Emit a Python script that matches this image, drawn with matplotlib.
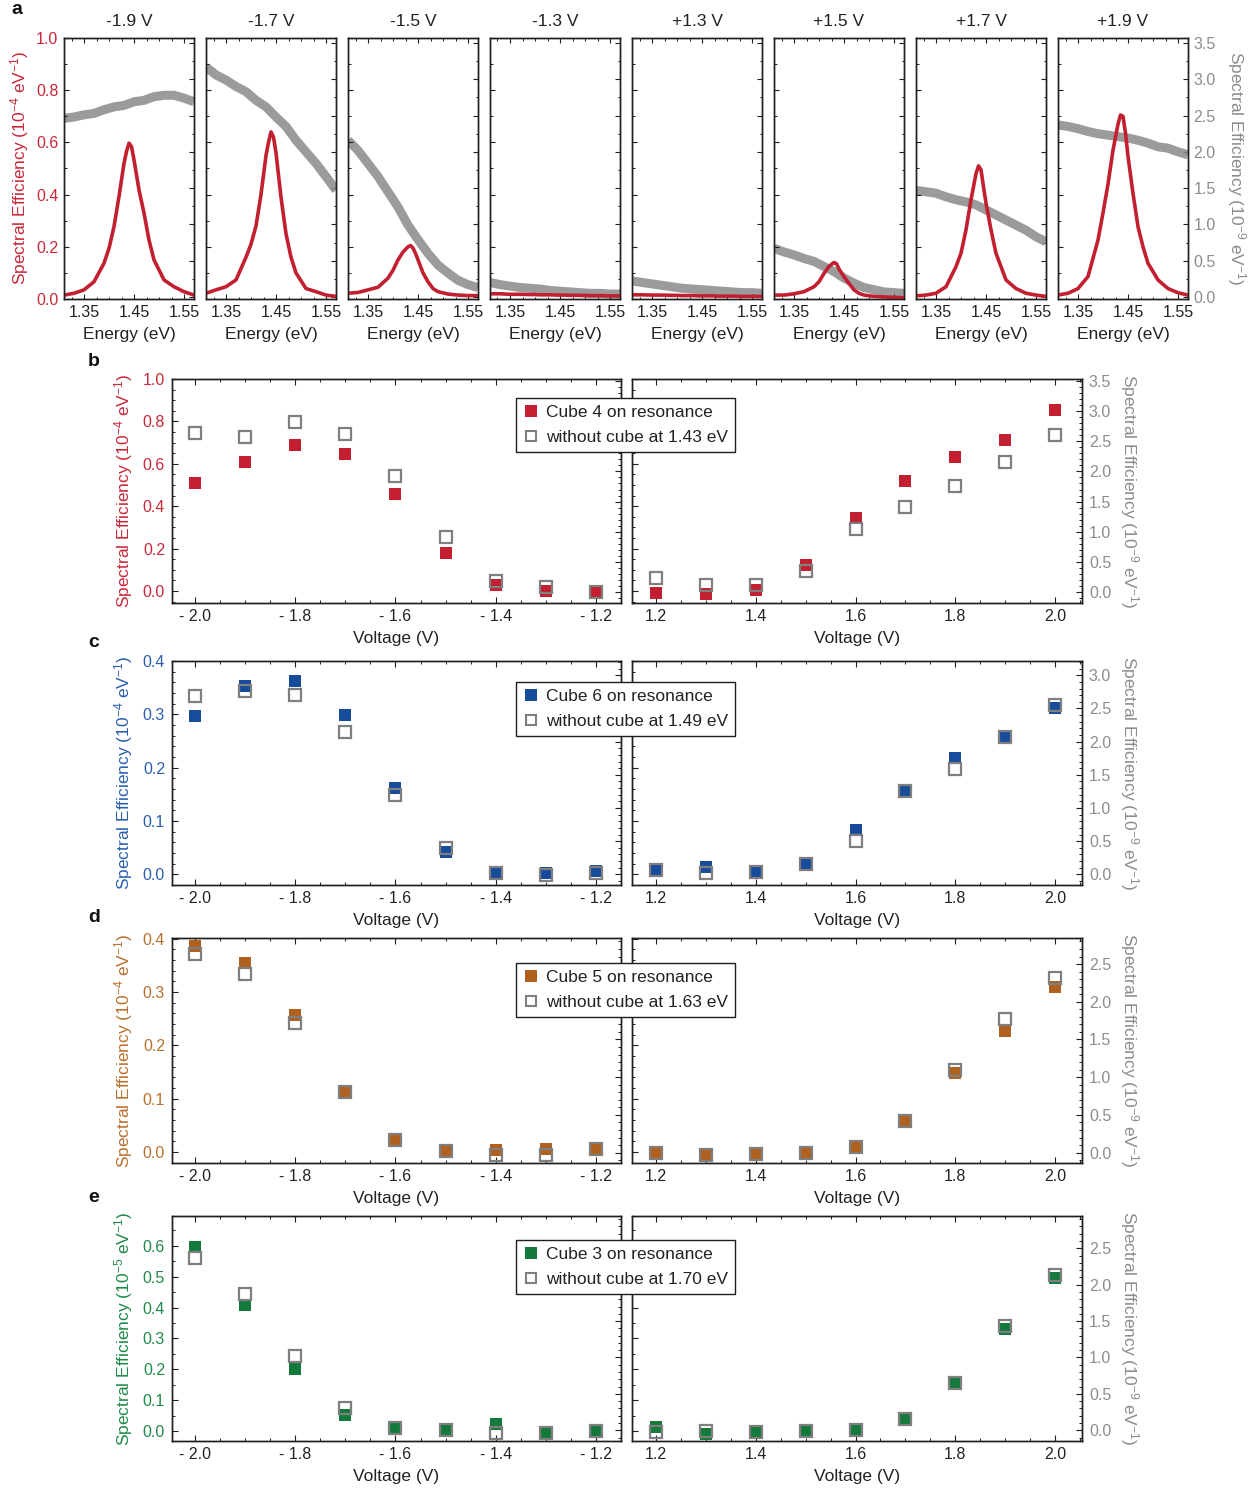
import matplotlib
matplotlib.use('Agg')
import matplotlib.pyplot as plt
from matplotlib.ticker import MultipleLocator, FixedLocator, FormatStrFormatter
from matplotlib.lines import Line2D

plt.rcParams['font.family'] = ['Liberation Sans', 'DejaVu Sans']
plt.rcParams['mathtext.fontset'] = 'custom'
plt.rcParams['mathtext.rm'] = 'Liberation Sans'
plt.rcParams['mathtext.it'] = 'Liberation Sans:italic'
plt.rcParams['mathtext.bf'] = 'Liberation Sans:bold'

# ---------------- data: panel a (spectra) ----------------
spec_titles = ['-1.9 V', '-1.7 V', '-1.5 V', '-1.3 V', '+1.3 V', '+1.5 V', '+1.7 V', '+1.9 V']
energy_peak = [1.31, 1.33, 1.35, 1.37, 1.39, 1.40, 1.41, 1.42, 1.43, 1.435, 1.44,
               1.445, 1.45, 1.46, 1.47, 1.48, 1.49, 1.51, 1.53, 1.55, 1.57]
energy_bg = [1.31, 1.33, 1.35, 1.37, 1.39, 1.41, 1.43, 1.45, 1.47, 1.49, 1.51, 1.53, 1.55, 1.57]

# red: cube on resonance (1e-4 /eV), left axis
red_m19 = [0.015, 0.022, 0.035, 0.066, 0.137, 0.194, 0.277, 0.393, 0.52, 0.565, 0.597,
           0.584, 0.533, 0.418, 0.329, 0.226, 0.15, 0.073, 0.047, 0.028, 0.015]
red_m17 = [0.022, 0.035, 0.047, 0.073, 0.16, 0.21, 0.28, 0.40, 0.55, 0.60, 0.64,
           0.62, 0.56, 0.39, 0.25, 0.16, 0.10, 0.04, 0.028, 0.015, 0.01]
red_m15 = [0.022, 0.025, 0.035, 0.045, 0.08, 0.11, 0.15, 0.18, 0.2, 0.205, 0.195,
           0.175, 0.15, 0.1, 0.066, 0.04, 0.028, 0.019, 0.015, 0.013, 0.013]
red_m13 = [0.02, 0.02, 0.018, 0.018, 0.017, 0.017, 0.016, 0.016, 0.016, 0.016, 0.015,
           0.015, 0.015, 0.015, 0.014, 0.014, 0.014, 0.013, 0.013, 0.012, 0.012]
red_p13 = [0.016, 0.016, 0.015, 0.015, 0.014, 0.014, 0.013, 0.013, 0.013, 0.013, 0.012,
           0.012, 0.012, 0.012, 0.012, 0.011, 0.011, 0.011, 0.01, 0.01, 0.01]
red_p15 = [0.015, 0.015, 0.02, 0.028, 0.047, 0.066, 0.098, 0.125, 0.14, 0.135, 0.115,
           0.1, 0.085, 0.06, 0.035, 0.022, 0.015, 0.01, 0.008, 0.006, 0.005]
red_p17 = [0.012, 0.015, 0.022, 0.047, 0.124, 0.175, 0.265, 0.38, 0.48, 0.51, 0.495,
           0.43, 0.367, 0.265, 0.175, 0.124, 0.073, 0.04, 0.022, 0.015, 0.01]
red_p19 = [0.015, 0.022, 0.04, 0.086, 0.226, 0.33, 0.44, 0.57, 0.67, 0.705, 0.70,
           0.636, 0.546, 0.405, 0.277, 0.2, 0.137, 0.073, 0.04, 0.024, 0.015]

# gray: without cube (1e-9 /eV), right axis
gray_m19 = [2.46, 2.48, 2.51, 2.53, 2.58, 2.62, 2.64, 2.69, 2.71, 2.76, 2.78, 2.78, 2.74, 2.69]
gray_m17 = [3.17, 3.06, 2.99, 2.90, 2.83, 2.71, 2.62, 2.48, 2.35, 2.16, 2.0, 1.84, 1.66, 1.47]
gray_m15 = [2.16, 2.02, 1.84, 1.66, 1.45, 1.24, 0.99, 0.79, 0.60, 0.44, 0.33, 0.23, 0.17, 0.13]
gray_m13 = [0.2, 0.17, 0.15, 0.13, 0.12, 0.11, 0.09, 0.08, 0.07, 0.06, 0.05, 0.05, 0.04, 0.04]
gray_p13 = [0.22, 0.2, 0.18, 0.16, 0.14, 0.12, 0.11, 0.1, 0.09, 0.08, 0.07, 0.06, 0.06, 0.05]
gray_p15 = [0.67, 0.62, 0.58, 0.53, 0.49, 0.42, 0.35, 0.26, 0.19, 0.13, 0.10, 0.07, 0.06, 0.05]
gray_p17 = [1.47, 1.45, 1.43, 1.38, 1.34, 1.31, 1.27, 1.20, 1.13, 1.06, 0.99, 0.92, 0.83, 0.76]
gray_p19 = [2.37, 2.35, 2.32, 2.28, 2.25, 2.23, 2.21, 2.19, 2.16, 2.12, 2.07, 2.05, 2.0, 1.96]

red_spectra = [red_m19, red_m17, red_m15, red_m13, red_p13, red_p15, red_p17, red_p19]
gray_spectra = [gray_m19, gray_m17, gray_m15, gray_m13, gray_p13, gray_p15, gray_p17, gray_p19]

# ---------------- data: panels b-e (voltage sweeps) ----------------
volt_neg = [-2.0, -1.9, -1.8, -1.7, -1.6, -1.5, -1.4, -1.3, -1.2]
volt_pos = [1.2, 1.3, 1.4, 1.5, 1.6, 1.7, 1.8, 1.9, 2.0]
neg_ticks = [-2.0, -1.8, -1.6, -1.4, -1.2]
neg_ticklabels = ['- 2.0', '- 1.8', '- 1.6', '- 1.4', '- 1.2']
pos_ticks = [1.2, 1.4, 1.6, 1.8, 2.0]
pos_ticklabels = ['1.2', '1.4', '1.6', '1.8', '2.0']

b_cube_neg = [0.51, 0.61, 0.687, 0.645, 0.455, 0.18, 0.03, 0.0, -0.005]
b_bg_neg = [2.64, 2.57, 2.81, 2.62, 1.93, 0.92, 0.19, 0.09, 0.01]
b_cube_pos = [-0.01, -0.015, 0.003, 0.12, 0.345, 0.518, 0.632, 0.711, 0.853]
b_bg_pos = [0.23, 0.12, 0.12, 0.36, 1.05, 1.41, 1.76, 2.16, 2.60]

c_cube_neg = [0.296, 0.353, 0.363, 0.298, 0.161, 0.042, 0.005, 0.002, 0.007]
c_bg_neg = [2.69, 2.77, 2.70, 2.14, 1.20, 0.39, 0.015, -0.01, 0.025]
c_cube_pos = [0.006, 0.014, 0.005, 0.019, 0.083, 0.159, 0.218, 0.256, 0.311]
c_bg_pos = [0.065, 0.025, 0.04, 0.15, 0.50, 1.26, 1.585, 2.07, 2.55]

d_cube_neg = [0.386, 0.355, 0.256, 0.110, 0.023, 0.002, 0.003, 0.006, 0.006]
d_bg_neg = [2.63, 2.37, 1.715, 0.807, 0.173, 0.022, -0.035, -0.027, 0.044]
d_cube_pos = [0.0, -0.003, -0.003, -0.002, 0.009, 0.058, 0.149, 0.226, 0.310]
d_bg_pos = [0.0, -0.027, -0.013, -0.004, 0.075, 0.417, 1.095, 1.773, 2.314]

e_cube_neg = [0.595, 0.408, 0.200, 0.051, 0.011, 0.002, 0.024, -0.003, 0.0]
e_bg_neg = [2.36, 1.87, 1.02, 0.307, 0.032, 0.0, -0.037, -0.037, -0.009]
e_cube_pos = [0.013, -0.009, -0.003, -0.003, 0.002, 0.04, 0.157, 0.332, 0.497]
e_bg_pos = [-0.023, -0.014, -0.023, -0.009, 0.009, 0.16, 0.656, 1.436, 2.133]

cube_names = ['Cube 4 on resonance', 'Cube 6 on resonance', 'Cube 5 on resonance', 'Cube 3 on resonance']
bg_names = ['without cube at 1.43 eV', 'without cube at 1.49 eV', 'without cube at 1.63 eV', 'without cube at 1.70 eV']
left_exponents = ['-4', '-4', '-4', '-5']

# ---------------- styles ----------------
RED, RED_T = '#C21F30', '#C8283A'
BLUE, BLUE_T = '#174C9C', '#2A5FAE'
BROWN, BROWN_T = '#B0601F', '#B8702E'
GREEN, GREEN_T = '#147A3C', '#1F8A48'
GRAY_M, GRAY_T = '#7F7F7F', '#8C8C8C'
FRAME = '#1e1e1e'
TXT = '#222222'

W, H = 1253, 1489
fig = plt.figure(figsize=(W / 100, H / 100), dpi=100)


def box(x0, y0, x1, y1):
    return [x0 / W, 1 - y1 / H, (x1 - x0) / W, (y1 - y0) / H]


def ftext(x, y, s, **kw):
    fig.text(x / W, 1 - y / H, s, **kw)


def frame(ax):
    for sp in ax.spines.values():
        sp.set_color(FRAME)
        sp.set_linewidth(1.0)


TICK_FS = 11.5
LAB_FS = 12.5

# ---------------- panel a ----------------
a_lefts = [64, 206, 348, 490, 632, 774, 916, 1058]
for i, x0 in enumerate(a_lefts):
    ax = fig.add_axes(box(x0, 38, x0 + 130, 299))
    ax2 = ax.twinx()
    ax2.plot(energy_bg, gray_spectra[i], color='#8a8a8a', lw=6.5, solid_capstyle='butt',
             solid_joinstyle='round', alpha=0.85)
    ax.plot(energy_peak, red_spectra[i], color=RED, lw=2.6, solid_joinstyle='round')
    ax.set_zorder(ax2.get_zorder() + 1)
    ax.patch.set_visible(False)
    ax.set_xlim(1.31, 1.57)
    ax.set_ylim(0.0, 1.0)
    ax2.set_ylim(-0.028, 3.569)
    ax.xaxis.set_major_locator(FixedLocator([1.35, 1.45, 1.55]))
    ax.xaxis.set_minor_locator(MultipleLocator(0.025))
    ax.yaxis.set_major_locator(MultipleLocator(0.2))
    ax.yaxis.set_minor_locator(MultipleLocator(0.1))
    ax2.yaxis.set_major_locator(MultipleLocator(0.5))
    ax2.yaxis.set_minor_locator(MultipleLocator(0.25))
    ax.yaxis.set_major_formatter(FormatStrFormatter('%.1f'))
    ax2.yaxis.set_major_formatter(FormatStrFormatter('%.1f'))
    ax.tick_params(axis='both', which='both', direction='in', top=True, colors=FRAME,
                   labelsize=TICK_FS, labelcolor=TXT)
    ax.tick_params(which='major', length=3.5, width=0.8)
    ax.tick_params(which='minor', length=1.8, width=0.7)
    ax2.tick_params(axis='y', which='both', direction='in', colors=FRAME,
                    labelsize=TICK_FS, labelcolor=GRAY_T)
    ax2.tick_params(which='major', length=3.5, width=0.8)
    ax2.tick_params(which='minor', length=1.8, width=0.7)
    ax.tick_params(axis='x', pad=4)
    ax.tick_params(axis='y', labelcolor=RED_T, pad=4)
    if i != 0:
        ax.tick_params(axis='y', labelleft=False)
    if i != 7:
        ax2.tick_params(axis='y', labelright=False)
    ax2.tick_params(axis='y', pad=4)
    frame(ax)
    frame(ax2)
    ax.set_title(spec_titles[i], fontsize=LAB_FS, color=TXT, pad=9)
    ax.set_xlabel('Energy (eV)', fontsize=LAB_FS, color=TXT, labelpad=5)

ftext(20, 168, 'Spectral Efficiency (10$^{-4}$ eV$^{-1}$)', rotation=90, ha='center', va='center',
      fontsize=LAB_FS, color=RED_T)
ftext(1236, 168, 'Spectral Efficiency (10$^{-9}$ eV$^{-1}$)', rotation=-90, ha='center', va='center',
      fontsize=LAB_FS, color=GRAY_T)
ftext(17, 10, 'a', fontsize=14, fontweight='bold', ha='center', va='center', color='#111111')

# ---------------- panels b-e ----------------
rows = [
    dict(top=379, bot=603, cneg=b_cube_neg, gneg=b_bg_neg, cpos=b_cube_pos, gpos=b_bg_pos,
         col=RED, tcol=RED_T, lyl=(-0.057, 1.0), ryl=(-0.177, 3.528), lmaj=0.2, lmin=0.05,
         rmaj=0.5, rmin=0.1, leg=398, letter='b', ly=361),
    dict(top=661, bot=885, cneg=c_cube_neg, gneg=c_bg_neg, cpos=c_cube_pos, gpos=c_bg_pos,
         col=BLUE, tcol=BLUE_T, lyl=(-0.020, 0.4), ryl=(-0.161, 3.215), lmaj=0.1, lmin=0.02,
         rmaj=0.5, rmin=0.1, leg=682, letter='c', ly=642),
    dict(top=938, bot=1163, cneg=d_cube_neg, gneg=d_bg_neg, cpos=d_cube_pos, gpos=d_bg_pos,
         col=BROWN, tcol=BROWN_T, lyl=(-0.0207, 0.4013), ryl=(-0.138, 2.846), lmaj=0.1, lmin=0.02,
         rmaj=0.5, rmin=0.1, leg=963, letter='d', ly=918),
    dict(top=1216, bot=1441, cneg=e_cube_neg, gneg=e_bg_neg, cpos=e_cube_pos, gpos=e_bg_pos,
         col=GREEN, tcol=GREEN_T, lyl=(-0.0325, 0.697), ryl=(-0.147, 2.943), lmaj=0.1, lmin=0.05,
         rmaj=0.5, rmin=0.1, leg=1240, letter='e', ly=1197),
]

MS = 8.8
for k, r in enumerate(rows):
    for side in ('neg', 'pos'):
        if side == 'neg':
            ax = fig.add_axes(box(172, r['top'], 621, r['bot']))
            xv, cy, gy = volt_neg, r['cneg'], r['gneg']
            xl = (-2.046, -1.15)
            ticks, tlabels = neg_ticks, neg_ticklabels
        else:
            ax = fig.add_axes(box(632, r['top'], 1082, r['bot']))
            xv, cy, gy = volt_pos, r['cpos'], r['gpos']
            xl = (1.152, 2.054)
            ticks, tlabels = pos_ticks, pos_ticklabels
        ax2 = ax.twinx()
        ax.plot(xv, cy, linestyle='none', marker='s', ms=MS, mfc=r['col'], mec=r['col'], mew=0)
        ax2.plot(xv, gy, linestyle='none', marker='s', ms=MS - 0.6, mfc='none', mec=GRAY_M, mew=1.6)
        ax.set_xlim(*xl)
        ax.set_ylim(*r['lyl'])
        ax2.set_ylim(*r['ryl'])
        ax.xaxis.set_major_locator(FixedLocator(ticks))
        ax.set_xticklabels(tlabels)
        ax.xaxis.set_minor_locator(MultipleLocator(0.05))
        ax.yaxis.set_major_locator(MultipleLocator(r['lmaj']))
        ax.yaxis.set_minor_locator(MultipleLocator(r['lmin']))
        ax2.yaxis.set_major_locator(MultipleLocator(r['rmaj']))
        ax2.yaxis.set_minor_locator(MultipleLocator(r['rmin']))
        ax.yaxis.set_major_formatter(FormatStrFormatter('%.1f'))
        ax2.yaxis.set_major_formatter(FormatStrFormatter('%.1f'))
        ax.tick_params(axis='both', which='both', direction='in', top=True, colors=FRAME,
                       labelsize=TICK_FS, labelcolor=TXT)
        ax.tick_params(which='major', length=4, width=0.8)
        ax.tick_params(which='minor', length=2, width=0.7)
        ax.tick_params(axis='y', labelcolor=r['tcol'], pad=5)
        ax.tick_params(axis='x', pad=4)
        ax2.tick_params(axis='y', which='both', direction='in', colors=FRAME,
                        labelsize=TICK_FS, labelcolor=GRAY_T, pad=5)
        ax2.tick_params(which='major', length=4, width=0.8)
        ax2.tick_params(which='minor', length=2, width=0.7)
        if side == 'neg':
            ax2.tick_params(axis='y', labelright=False)
        else:
            ax.tick_params(axis='y', labelleft=False)
        frame(ax)
        frame(ax2)
        ax.set_xlabel('Voltage (V)', fontsize=LAB_FS, color=TXT, labelpad=5)
    ymid = (r['top'] + r['bot']) / 2
    ftext(124, ymid, 'Spectral Efficiency (10$^{%s}$ eV$^{-1}$)' % left_exponents[k], rotation=90,
          ha='center', va='center', fontsize=LAB_FS, color=r['tcol'])
    ftext(1129, ymid, 'Spectral Efficiency (10$^{-9}$ eV$^{-1}$)', rotation=-90,
          ha='center', va='center', fontsize=LAB_FS, color=GRAY_T)
    ftext(94, r['ly'], r['letter'], fontsize=14, fontweight='bold', ha='center', va='center',
          color='#111111')
    handles = [Line2D([], [], linestyle='none', marker='s', ms=MS - 0.5, mfc=r['col'], mec=r['col'], mew=0),
               Line2D([], [], linestyle='none', marker='s', ms=MS - 1.2, mfc='none', mec=GRAY_M, mew=1.5)]
    leg = fig.legend(handles, [cube_names[k], bg_names[k]], loc='upper left',
                     bbox_to_anchor=(516 / W, 1 - r['leg'] / H), frameon=True, fancybox=False,
                     framealpha=1, edgecolor=FRAME, fontsize=LAB_FS, borderpad=0.42,
                     handletextpad=0.4, labelspacing=0.52, handlelength=0.9, borderaxespad=0)
    leg.get_frame().set_linewidth(1.0)
    for t in leg.get_texts():
        t.set_color(TXT)

fig.savefig('out.png', dpi=100, facecolor='white')
